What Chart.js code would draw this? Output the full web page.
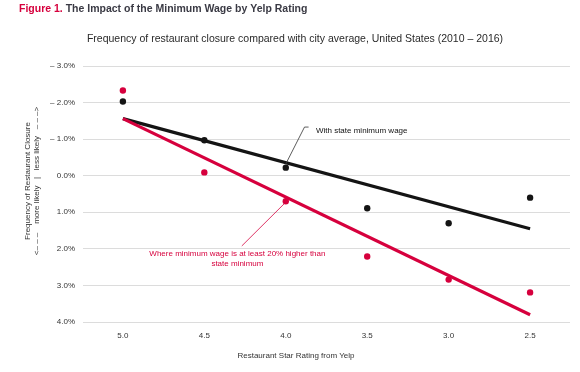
<!DOCTYPE html>
<html>
<head>
<meta charset="utf-8">
<script src="https://cdn.jsdelivr.net/npm/chart.js@4"></script>
<style>
  html, body { margin: 0; padding: 0; background: #fff; }
  #wrap { width: 580px; height: 372px; }
</style>
</head>
<body>
<div id="wrap"><canvas id="yelpChart"></canvas></div>
<script>
const ratings = [5.0, 4.5, 4.0, 3.5, 3.0, 2.5];
const stateMin = [-2.03, -0.97, -0.22, 0.89, 1.3, 0.6];
const higherMin = [-2.33, -0.09, 0.7, 2.21, 2.84, 3.19];
const stateTrend = [-1.56, 1.45];
const higherTrend = [-1.56, 3.8];
const yTicks = [-3, -2, -1, 0, 1, 2, 3, 4];

const RED = "#d6003d";
const BLACK = "#141414";
const FONT = "'Liberation Sans', Arial, sans-serif";

const pts = (vals) => vals.map((v, i) => ({ x: ratings[i], y: v }));
const trend = (vals) => [
  { x: ratings[0], y: vals[0] },
  { x: ratings[ratings.length - 1], y: vals[1] },
];

const textPlugin = {
  id: "texts",
  afterDraw(chart) {
    const ctx = chart.ctx;
    const xs = chart.scales.x;
    const ys = chart.scales.y;
    const px = (v) => xs.getPixelForValue(v);
    const py = (v) => ys.getPixelForValue(v);
    ctx.save();
    ctx.textBaseline = "middle";

    // title
    ctx.font = "bold 10.5px " + FONT;
    ctx.textAlign = "left";
    ctx.fillStyle = RED;
    ctx.fillText("Figure 1.", 19, 9);
    const w = ctx.measureText("Figure 1. ").width;
    ctx.fillStyle = "#3a3a44";
    ctx.fillText("The Impact of the Minimum Wage by Yelp Rating", 19 + w, 9);

    // subtitle
    ctx.font = "10.5px " + FONT;
    ctx.fillStyle = "#2a2a2a";
    ctx.textAlign = "center";
    ctx.fillText(
      "Frequency of restaurant closure compared with city average, United States (2010 \u2013 2016)",
      295, 39
    );

    // y axis title
    ctx.save();
    ctx.translate(27.5, 181);
    ctx.rotate(-Math.PI / 2);
    ctx.font = "8px " + FONT;
    ctx.fillStyle = "#333";
    ctx.fillText("Frequency of Restaurant Closure", 0, 0);
    ctx.fillText("<\u2013 \u2013 \u2013    more likely   |   less likely   \u2013 \u2013 \u2013>", 0, 9.5);
    ctx.restore();

    // x axis title
    ctx.font = "8px " + FONT;
    ctx.fillStyle = "#333";
    ctx.textAlign = "center";
    ctx.fillText("Restaurant Star Rating from Yelp", 296, 356);

    // black annotation
    ctx.strokeStyle = "#333";
    ctx.lineWidth = 0.8;
    ctx.beginPath();
    ctx.moveTo(px(4.0), py(-0.32));
    ctx.lineTo(px(3.885), py(-1.33));
    ctx.lineTo(px(3.86), py(-1.33));
    ctx.stroke();
    ctx.font = "8px " + FONT;
    ctx.fillStyle = "#111";
    ctx.textAlign = "left";
    ctx.fillText("With state minimum wage", px(3.815), py(-1.22));

    // red annotation
    ctx.strokeStyle = RED;
    ctx.beginPath();
    ctx.moveTo(px(4.006), py(0.75));
    ctx.lineTo(px(4.27), py(1.92));
    ctx.stroke();
    ctx.fillStyle = RED;
    ctx.textAlign = "center";
    ctx.fillText("Where minimum wage is at least 20% higher than", px(4.297), py(2.14));
    ctx.fillText("state minimum", px(4.297), py(2.41));
    ctx.restore();
  },
};

new Chart(document.getElementById("yelpChart"), {
  type: "scatter",
  data: {
    datasets: [
      {
        label: "With state minimum wage (trend)",
        data: trend(stateTrend),
        showLine: true,
        borderColor: BLACK,
        borderWidth: 3.2,
        pointRadius: 0,
        order: 3,
      },
      {
        label: "Where minimum wage is at least 20% higher (trend)",
        data: trend(higherTrend),
        showLine: true,
        borderColor: RED,
        borderWidth: 3.2,
        pointRadius: 0,
        order: 2,
      },
      {
        label: "With state minimum wage",
        data: pts(stateMin),
        backgroundColor: BLACK,
        borderWidth: 0,
        pointRadius: 3.2,
        order: 1,
      },
      {
        label: "Where minimum wage is at least 20% higher",
        data: pts(higherMin),
        backgroundColor: RED,
        borderWidth: 0,
        pointRadius: 3.2,
        order: 0,
      },
    ],
  },
  options: {
    responsive: true,
    maintainAspectRatio: false,
    animation: false,
    layout: { padding: { top: 66, right: 10, left: 0, bottom: 0 } },
    plugins: {
      legend: { display: false },
      tooltip: { enabled: false },
    },
    scales: {
      x: {
        type: "linear",
        reverse: true,
        min: 2.255,
        max: 5.245,
        afterBuildTicks: (s) => { s.ticks = ratings.map((v) => ({ value: v })); },
        afterFit: (s) => { s.height = 50; },
        grid: { display: false, drawTicks: false },
        border: { display: false },
        ticks: {
          padding: 9,
          color: "#333",
          font: { family: FONT, size: 8 },
          callback: (v) => v.toFixed(1),
        },
      },
      y: {
        type: "linear",
        reverse: true,
        min: -3,
        max: 4,
        afterBuildTicks: (s) => { s.ticks = yTicks.map((v) => ({ value: v })); },
        afterFit: (s) => { s.width = 83; },
        grid: { color: "#dcdcdc", lineWidth: 1, drawTicks: false },
        border: { display: false },
        ticks: {
          padding: 8,
          color: "#333",
          font: { family: FONT, size: 8 },
          callback: (v) => (v < 0 ? "\u2013 " + Math.abs(v).toFixed(1) + "%" : v.toFixed(1) + "%"),
        },
      },
    },
  },
  plugins: [textPlugin],
});
</script>
</body>
</html>
